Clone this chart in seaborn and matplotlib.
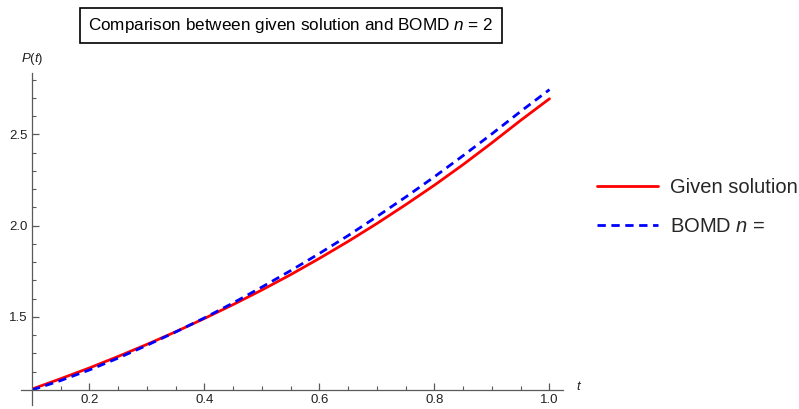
import numpy as np
import pandas as pd
import matplotlib
matplotlib.use("Agg")
import matplotlib.pyplot as plt
import seaborn as sns
from matplotlib.lines import Line2D

# Sample times and the two solution curves
t_values = [0.10, 0.15, 0.20, 0.25, 0.30, 0.35, 0.40, 0.45, 0.50, 0.55,
            0.60, 0.65, 0.70, 0.75, 0.80, 0.85, 0.90, 0.95, 1.00]
given_solution = [1.105, 1.162, 1.221, 1.284, 1.350, 1.419, 1.492, 1.568, 1.648, 1.732,
                  1.821, 1.914, 2.012, 2.115, 2.222, 2.335, 2.454, 2.577, 2.695]
bomd_n2 = [1.100, 1.152, 1.210, 1.275, 1.345, 1.418, 1.495, 1.577, 1.664, 1.754,
           1.848, 1.946, 2.050, 2.157, 2.268, 2.384, 2.503, 2.626, 2.745]

x_ticks = [0.2, 0.4, 0.6, 0.8, 1.0]
y_ticks = [1.5, 2.0, 2.5]
series_names = ["Given solution", "BOMD n ="]

df = pd.DataFrame({
    "t": t_values * 2,
    "P": given_solution + bomd_n2,
    "series": [series_names[0]] * len(t_values) + [series_names[1]] * len(t_values),
})

sns.set_theme(style="white")
plt.rcParams["font.family"] = ["Liberation Sans", "DejaVu Sans"]
plt.rcParams["mathtext.fontset"] = "custom"
plt.rcParams["mathtext.rm"] = "Liberation Sans"
plt.rcParams["mathtext.it"] = "Liberation Sans:italic"

fig = plt.figure(figsize=(7.99, 4.09), dpi=100)
W, H = 799, 409
ax = fig.add_axes([32 / W, (H - 390) / H, (563 - 32) / W, (390 - 73) / H])

dash_pattern = (3.0, 2.0)
sns.lineplot(data=df, x="t", y="P", hue="series", style="series",
             palette={series_names[0]: "#ff0000", series_names[1]: "#0000ff"},
             dashes={series_names[0]: "", series_names[1]: dash_pattern},
             linewidth=2.0, legend=False, ax=ax)

ax.set_xlim(0.1, 1.0235)
ax.set_ylim(1.1, 2.836)
ax.set_xlabel("")
ax.set_ylabel("")

axis_color = "#5a5a5a"
for side in ["top", "right"]:
    ax.spines[side].set_visible(False)
for side in ["left", "bottom"]:
    ax.spines[side].set_color(axis_color)
    ax.spines[side].set_linewidth(0.9)
ax.spines["left"].set_bounds(1.018, 2.836)
ax.spines["bottom"].set_bounds(0.08, 1.0235)

ax.set_xticks(x_ticks)
ax.set_xticklabels([f"{v:.1f}" for v in x_ticks])
ax.set_yticks(y_ticks)
ax.set_yticklabels([f"{v:.1f}" for v in y_ticks])
ax.set_xticks([v for v in np.arange(0.15, 1.03, 0.05) if abs(v * 5 - round(v * 5)) > 1e-6], minor=True)
ax.set_yticks([v for v in np.arange(1.2, 2.85, 0.1) if abs(v * 2 - round(v * 2)) > 1e-6], minor=True)
ax.tick_params(axis="both", which="major", direction="in", length=5, width=0.9,
               color=axis_color, labelsize=9.5, labelcolor="#222222", pad=3)
ax.tick_params(axis="both", which="minor", direction="in", length=3, width=0.8,
               color=axis_color)
ax.tick_params(axis="x", which="both", bottom=True)
ax.tick_params(axis="y", which="both", left=True)

# Axis labels placed at the ends of the axes
ax.text(0.0, 1.044, "$\\it{P}$($\\it{t}$)", transform=ax.transAxes,
        ha="center", va="center", fontsize=9.5, color="#222222")
ax.text(1.025, 0.012, "$\\it{t}$", transform=ax.transAxes,
        ha="left", va="center", fontsize=9.5, color="#222222")

# Framed title
fig.text(291 / W, 1 - 25.5 / H, "Comparison between given solution and BOMD $\\it{n}$ = 2",
         ha="center", va="center", fontsize=12.3, color="black",
         bbox=dict(boxstyle="square,pad=0.48", facecolor="white",
                   edgecolor="black", linewidth=1.2))

# Legend outside the plot on the right
handles = [Line2D([], [], color="#ff0000", linewidth=2.0),
           Line2D([], [], color="#0000ff", linewidth=2.0, dashes=dash_pattern)]
fig.legend(handles, ["Given solution", "BOMD $\\it{n}$ ="],
           loc="upper left", bbox_to_anchor=(597 / W, 1 - 178 / H),
           frameon=False, fontsize=14.5, handlelength=3.05, handletextpad=0.55,
           labelspacing=1.0, borderpad=0.0, borderaxespad=0.0)

fig.savefig("out.png", dpi=100, facecolor="white")
